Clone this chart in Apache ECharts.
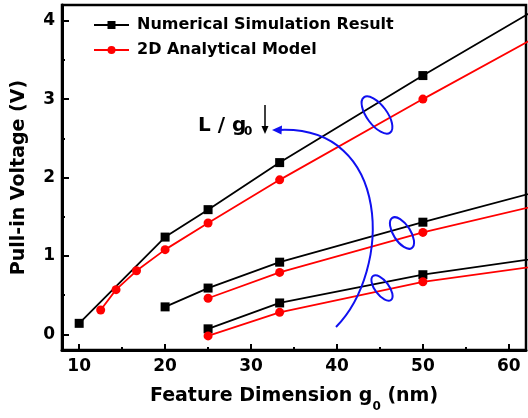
<!DOCTYPE html>
<html><head><meta charset="utf-8">
<script src="https://cdn.jsdelivr.net/npm/echarts@6/dist/echarts.min.js"></script>
<style>html,body{margin:0;padding:0;background:#fff}#c{width:528px;height:418px}</style>
</head><body><div id="c"></div>
<script>
const seriesNames = ['Numerical Simulation Result', '2D Analytical Model'];
const xTicks = [10, 20, 30, 40, 50, 60];
const xMinorTicks = [15, 25, 35, 45, 55];
const yTicks = [0, 1, 2, 3, 4];
const yMinorTicks = [0.5, 1.5, 2.5, 3.5];

const simX1 = [10, 20, 25, 33.33, 50, 100];
const simY1 = [0.14, 1.24, 1.59, 2.19, 3.30, 6.51];
const modX1 = [12.5, 14.29, 16.67, 20, 25, 33.33, 50, 100];
const modY1 = [0.31, 0.57, 0.81, 1.08, 1.42, 1.97, 3.00, 6.00];
const simX2 = [20, 25, 33.33, 50, 100];
const simY2 = [0.35, 0.59, 0.92, 1.43, 2.89];
const modX2 = [25, 33.33, 50, 100];
const modY2 = [0.46, 0.79, 1.30, 2.59];
const simX3 = [25, 33.33, 50, 100];
const simY3 = [0.07, 0.40, 0.76, 1.55];
const modX3 = [25, 33.33, 50, 100];
const modY3 = [-0.02, 0.28, 0.67, 1.42];

const FONT = 'DejaVu Sans';
const BLUE = '#1010f0';

function mk(name, xs, ys, color, symbol) {
  return {
    type: 'line', name: name, clip: true,
    data: xs.map((x, i) => [x, ys[i]]),
    symbol: symbol, symbolSize: 9, showSymbol: true,
    lineStyle: { color: color, width: 1.8 },
    itemStyle: { color: color },
    emphasis: { disabled: true }
  };
}

const chart = echarts.init(document.getElementById('c'), null, { renderer: 'canvas' });
chart.setOption({
  animation: false,
  backgroundColor: '#fff',
  textStyle: { fontFamily: FONT },
  grid: { left: 62, right: 2, top: 5, bottom: 68, show: true, borderColor: '#000', borderWidth: 2.5, containLabel: false },
  legend: {
    data: seriesNames, orient: 'vertical', left: 93, top: 17, padding: 0, itemGap: 9,
    itemWidth: 35, itemHeight: 10,
    textStyle: { fontFamily: FONT, fontSize: 16, fontWeight: 'bold', color: '#000', padding: [0, 0, 0, 3] }
  },
  xAxis: [{
    type: 'value', min: 8, max: 62, position: 'bottom',
    axisLine: { show: true, onZero: false, lineStyle: { color: '#000', width: 3 } },
    axisTick: { show: true, inside: true, length: 6, lineStyle: { color: '#000', width: 2 }, customValues: xTicks },
    axisLabel: { customValues: xTicks, fontFamily: FONT, fontSize: 17, fontWeight: 'bold', color: '#000', margin: 8 },
    splitLine: { show: false },
    name: '{a|Feature Dimension g}{b|0}{a| (nm)}', nameLocation: 'middle', nameGap: 30,
    nameTextStyle: { rich: {
      a: { fontFamily: FONT, fontSize: 19, fontWeight: 'bold', color: '#000' },
      b: { fontFamily: FONT, fontSize: 12, fontWeight: 'bold', color: '#000', padding: [21, 0, 0, 0] }
    } }
  }, {
    type: 'value', min: 8, max: 62, position: 'bottom',
    axisLine: { show: false, onZero: false },
    axisTick: { show: true, inside: true, length: 3, lineStyle: { color: '#000', width: 2 }, customValues: xMinorTicks },
    axisLabel: { show: false }, splitLine: { show: false }
  }],
  yAxis: [{
    type: 'value', min: -0.2, max: 4.2, position: 'left',
    axisLine: { show: true, onZero: false, lineStyle: { color: '#000', width: 3 } },
    axisTick: { show: true, inside: true, length: 7, lineStyle: { color: '#000', width: 2 }, customValues: yTicks },
    axisLabel: { customValues: yTicks, fontFamily: FONT, fontSize: 17, fontWeight: 'bold', color: '#000', margin: 7 },
    splitLine: { show: false },
    name: 'Pull-in Voltage (V)', nameLocation: 'middle', nameGap: 33, nameRotate: 90,
    nameTextStyle: { fontFamily: FONT, fontSize: 19, fontWeight: 'bold', color: '#000' }
  }, {
    type: 'value', min: -0.2, max: 4.2, position: 'left',
    axisLine: { show: false, onZero: false },
    axisTick: { show: true, inside: true, length: 3, lineStyle: { color: '#000', width: 2 }, customValues: yMinorTicks },
    axisLabel: { show: false }, splitLine: { show: false }
  }],
  series: [
    mk(seriesNames[0], simX1, simY1, '#000', 'rect'),
    mk(seriesNames[0], simX2, simY2, '#000', 'rect'),
    mk(seriesNames[0], simX3, simY3, '#000', 'rect'),
    mk(seriesNames[1], modX1, modY1, '#ff0000', 'circle'),
    mk(seriesNames[1], modX2, modY2, '#ff0000', 'circle'),
    mk(seriesNames[1], modX3, modY3, '#ff0000', 'circle')
  ],
  graphic: [
    { type: 'ellipse', x: 377, y: 115, rotation: -0.93, shape: { cx: 0, cy: 0, rx: 22, ry: 10 }, style: { fill: null, stroke: BLUE, lineWidth: 2 }, z: 100 },
    { type: 'ellipse', x: 402, y: 233, rotation: -1.0, shape: { cx: 0, cy: 0, rx: 18, ry: 8.5 }, style: { fill: null, stroke: BLUE, lineWidth: 2 }, z: 100 },
    { type: 'ellipse', x: 382, y: 288, rotation: -0.93, shape: { cx: 0, cy: 0, rx: 15, ry: 7 }, style: { fill: null, stroke: BLUE, lineWidth: 2 }, z: 100 },
    { type: 'bezierCurve', shape: { x1: 336, y1: 327, cpx1: 392, cpy1: 270, cpx2: 392, cpy2: 125, x2: 279, y2: 130 }, style: { fill: null, stroke: BLUE, lineWidth: 2 }, z: 100 },
    { type: 'polygon', shape: { points: [[272, 130], [282, 125.5], [281.5, 134.5]] }, style: { fill: BLUE }, z: 100 },
    { type: 'text', x: 198, y: 125.5, style: { text: 'L / g', font: 'bold 20px "DejaVu Sans"', fill: '#000', align: 'left', verticalAlign: 'middle' }, z: 100 },
    { type: 'text', x: 244, y: 132, style: { text: '0', font: 'bold 12px "DejaVu Sans"', fill: '#000', align: 'left', verticalAlign: 'middle' }, z: 100 },
    { type: 'line', shape: { x1: 265, y1: 105, x2: 265, y2: 128 }, style: { stroke: '#000', lineWidth: 1.5 }, z: 100 },
    { type: 'polygon', shape: { points: [[261.5, 126], [268.5, 126], [265, 134]] }, style: { fill: '#000' }, z: 100 }
  ]
});
</script></body></html>
